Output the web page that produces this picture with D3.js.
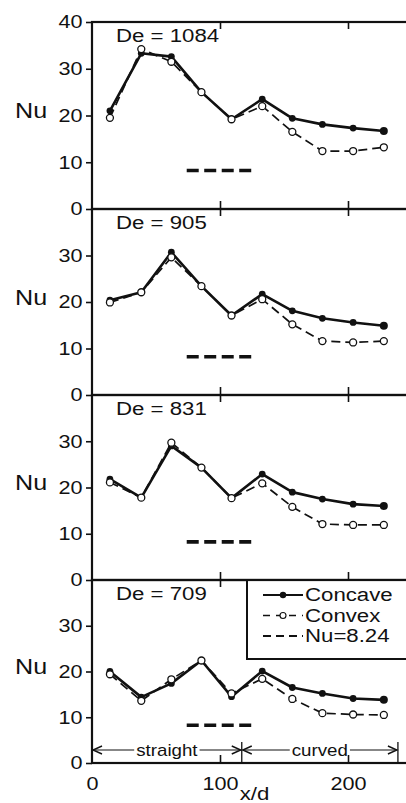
<!DOCTYPE html>
<html>
<head>
<meta charset="utf-8">
<script src="https://cdn.jsdelivr.net/npm/d3@7"></script>
<style>
body { margin: 0; background: #fff; }
svg { display: block; }
text { font-family: "Liberation Sans", Arial, Helvetica, sans-serif; fill: #111; }
</style>
</head>
<body>
<svg id="chart" width="406" height="803"></svg>
<script>
// x/d stations (same for every panel)
const xd = [14, 38.5, 62, 85.5, 109, 133, 156.5, 180, 204, 228];
const deNumbers = [1084, 905, 831, 709];

// Nu, one array per De
const concave1084 = [21.0, 33.3, 32.6, 25.0, 19.2, 23.5, 19.4, 18.1, 17.3, 16.7];
const convex1084  = [19.5, 34.2, 31.5, 25.0, 19.2, 22.0, 16.5, 12.4, 12.4, 13.2];
const concave905  = [20.4, 22.1, 30.7, 23.4, 17.1, 21.7, 18.1, 16.5, 15.6, 14.9];
const convex905   = [19.9, 22.1, 29.6, 23.4, 17.1, 20.6, 15.2, 11.6, 11.3, 11.6];
const concave831  = [21.8, 17.8, 29.0, 24.3, 17.7, 22.9, 19.0, 17.5, 16.4, 16.0];
const convex831   = [21.1, 17.8, 29.7, 24.3, 17.7, 20.9, 15.8, 12.1, 11.9, 11.9];
const concave709  = [20.0, 14.4, 17.4, 22.4, 14.5, 20.1, 16.5, 15.2, 14.1, 13.8];
const convex709   = [19.4, 13.6, 18.3, 22.4, 15.2, 18.4, 14.0, 10.9, 10.6, 10.5];

const concaveSeries = [concave1084, concave905, concave831, concave709];
const convexSeries = [convex1084, convex905, convex831, convex709];

const nuRef = 8.24;
const nuRefSpan = [74, 125];
const nuTicks = [0, 10, 20, 30, 40];
const xdTicks = [0, 100, 200];
const sectionNames = ['straight', 'curved'];
const sectionBounds = [0, 117, 239];
const legendNames = ['Concave', 'Convex', 'Nu=8.24'];

const svg = d3.select('#chart');
const ink = '#111';
const sx = 1.17; // scanned lettering is a bit wide
const edges = [22, 209, 395, 580, 763];

const x = d3.scaleLinear().domain([0, 250]).range([92, 412]);

function stretched(sel, px, py) {
    return sel.attr('transform', `translate(${px},${py}) scale(${sx},1)`);
}

function styleAxis(ax, w) {
    ax.select('.domain').remove();
    ax.selectAll('line').attr('stroke', ink).attr('stroke-width', w);
}

deNumbers.forEach((de, i) => {
    const top = edges[i], bottom = edges[i + 1];
    const y = d3.scaleLinear().domain([0, 40]).range([bottom, top]);
    const g = svg.append('g');
    const last = i === deNumbers.length - 1;

    // left axis with labels
    const ticks = i === 0 ? nuTicks : nuTicks.slice(0, 4);
    const axL = g.append('g')
        .attr('transform', `translate(${x(0)},0)`)
        .call(d3.axisLeft(y).tickValues(ticks).tickSize(6).tickPadding(2));
    styleAxis(axL, 1.6);
    axL.selectAll('text')
        .attr('font-size', 18.5)
        .attr('transform', `scale(${sx},1)`);

    // right ticks, inward
    const axR = g.append('g')
        .attr('transform', `translate(${x(250)},0)`)
        .call(d3.axisRight(y).tickValues([10, 20, 30]).tickSize(-6).tickFormat(''));
    styleAxis(axR, 1.4);

    // top / bottom ticks, inward
    const axT = g.append('g')
        .attr('transform', `translate(0,${top})`)
        .call(d3.axisTop(x).tickValues(xdTicks.slice(1)).tickSize(-7).tickFormat(''));
    styleAxis(axT, 1.6);

    const axB = g.append('g')
        .attr('transform', `translate(0,${bottom})`)
        .call(d3.axisBottom(x).tickValues(last ? xdTicks : xdTicks.slice(1))
            .tickSize(-8).tickPadding(14).tickFormat(last ? d3.format('d') : ''));
    styleAxis(axB, 1.6);
    axB.selectAll('text')
        .attr('font-size', 18.5)
        .attr('transform', `scale(${sx},1)`);
    axB.selectAll('.tick').filter(d => d === 0).select('line').remove();

    // legend box (bottom panel), drawn before the frame
    if (last) {
        const lg = g.append('g');
        lg.append('rect')
            .attr('x', 247).attr('y', top)
            .attr('width', 200).attr('height', 79)
            .attr('fill', '#fff')
            .attr('stroke', ink).attr('stroke-width', 2);
        legendNames.forEach((name, k) => {
            const ly = top + 21 + k * 20.5;
            const row = lg.append('g');
            if (k === 0) {
                row.append('line').attr('x1', 263).attr('x2', 303).attr('y1', ly - 6).attr('y2', ly - 6)
                    .attr('stroke', ink).attr('stroke-width', 1.8);
                row.append('circle').attr('cx', 283).attr('cy', ly - 6).attr('r', 3.2).attr('fill', ink);
            } else if (k === 1) {
                row.append('line').attr('x1', 263).attr('x2', 303).attr('y1', ly - 6).attr('y2', ly - 6)
                    .attr('stroke', ink).attr('stroke-width', 1.4).attr('stroke-dasharray', '7,6');
                row.append('circle').attr('cx', 283).attr('cy', ly - 6).attr('r', 3)
                    .attr('fill', '#fff').attr('stroke', ink).attr('stroke-width', 1.1);
            } else {
                row.append('line').attr('x1', 263).attr('x2', 303).attr('y1', ly - 6).attr('y2', ly - 6)
                    .attr('stroke', ink).attr('stroke-width', 2.2).attr('stroke-dasharray', '8,5');
            }
            stretched(row.append('text'), 305, ly).attr('font-size', 19).text(name);
        });
    }

    // frame
    g.append('rect')
        .attr('x', x(0)).attr('y', top)
        .attr('width', x(250) - x(0)).attr('height', bottom - top)
        .attr('fill', 'none')
        .attr('stroke', ink).attr('stroke-width', 2.2);

    // labels
    stretched(g.append('text'), 15, y(21)).attr('font-size', 21.5).attr('dy', '0.35em').text('Nu');
    stretched(g.append('text'), 116, top + 20).attr('font-size', 19).text(`De = ${de}`);

    // Nu = 8.24 reference
    g.append('line')
        .attr('x1', x(nuRefSpan[0])).attr('x2', x(nuRefSpan[1]))
        .attr('y1', y(nuRef)).attr('y2', y(nuRef))
        .attr('stroke', ink).attr('stroke-width', 3.6)
        .attr('stroke-dasharray', '12,5.5');

    const line = d3.line().x((d, j) => x(xd[j])).y(d => y(d));

    // concave
    g.append('path').datum(concaveSeries[i])
        .attr('d', line)
        .attr('fill', 'none').attr('stroke', ink)
        .attr('stroke-width', 2.6).attr('stroke-linejoin', 'round');
    g.selectAll('.cc').data(concaveSeries[i]).enter().append('circle')
        .attr('cx', (d, j) => x(xd[j])).attr('cy', d => y(d))
        .attr('r', (d, j) => j === xd.length - 1 ? 4 : 3.4)
        .attr('fill', ink);

    // convex
    g.append('path').datum(convexSeries[i])
        .attr('d', line)
        .attr('fill', 'none').attr('stroke', ink)
        .attr('stroke-width', 1.7).attr('stroke-dasharray', '9,5');
    g.selectAll('.cv').data(convexSeries[i]).enter().append('circle')
        .attr('cx', (d, j) => x(xd[j])).attr('cy', d => y(d))
        .attr('r', 3.5)
        .attr('fill', '#fff').attr('stroke', ink).attr('stroke-width', 1.3);

    if (last) {
        // straight / curved sections
        const ay = bottom - 13;
        sectionNames.forEach((name, k) => {
            const a = x(sectionBounds[k]), b = x(sectionBounds[k + 1]);
            const m = (a + b) / 2;
            const t = stretched(g.append('text'), m, ay + 6)
                .attr('font-size', 16).attr('text-anchor', 'middle').text(name);
            const w = t.node().getComputedTextLength() * sx;
            g.append('line').attr('x1', a + 1).attr('x2', m - w / 2 - 2)
                .attr('y1', ay).attr('y2', ay).attr('stroke', ink).attr('stroke-width', 1.2);
            g.append('line').attr('x1', m + w / 2 + 2).attr('x2', b - 1)
                .attr('y1', ay).attr('y2', ay).attr('stroke', ink).attr('stroke-width', 1.2);
            g.append('path')
                .attr('d', `M${a + 10},${ay - 4}L${a + 1},${ay}L${a + 10},${ay + 4}`)
                .attr('fill', 'none').attr('stroke', ink).attr('stroke-width', 1.4);
            g.append('path')
                .attr('d', `M${b - 10},${ay - 4}L${b - 1},${ay}L${b - 10},${ay + 4}`)
                .attr('fill', 'none').attr('stroke', ink).attr('stroke-width', 1.4);
        });
        sectionBounds.slice(1).forEach(s => {
            g.append('line').attr('x1', x(s)).attr('x2', x(s))
                .attr('y1', ay - 8).attr('y2', bottom)
                .attr('stroke', ink).attr('stroke-width', 1.3);
        });
        stretched(g.append('text'), x(127), 800)
            .attr('font-size', 19).attr('text-anchor', 'middle').text('x/d');
    }
});
</script>
</body>
</html>
